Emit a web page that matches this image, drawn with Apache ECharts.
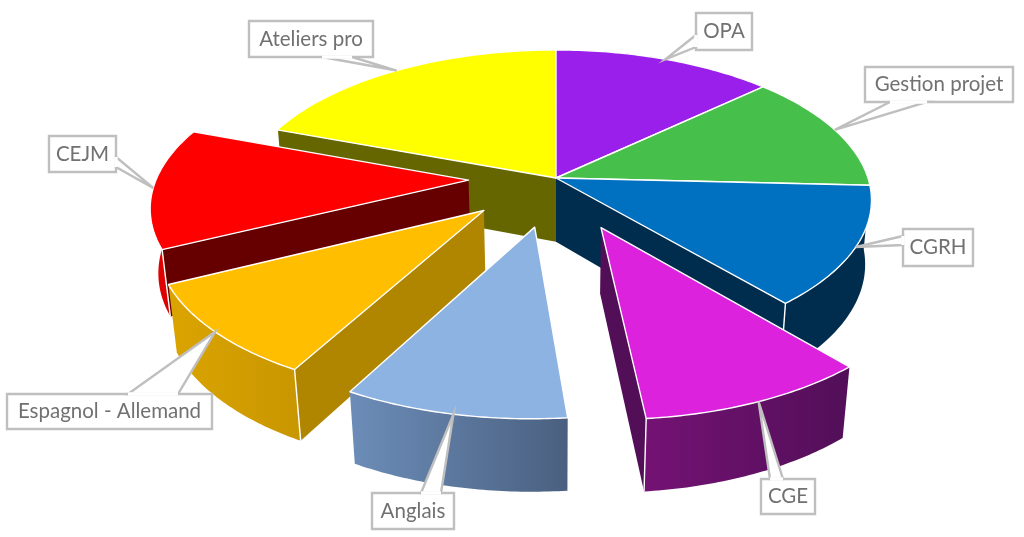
<!DOCTYPE html>
<html><head><meta charset="utf-8">
<style>html,body{margin:0;padding:0;background:#fff}#c{width:1024px;height:537px}</style>
<script src="https://cdn.jsdelivr.net/npm/echarts@6/dist/echarts.min.js"></script>
</head><body><div id="c"></div>
<script>
// data
const categories = ['OPA','Gestion projet','CGRH','CGE','Anglais','Espagnol - Allemand','CEJM','Ateliers pro'];
const hours = [13.3,13,13.15,10,9.65,10,13.1,19.8];
const explosion = [0,0,0,0.35,0.325,0.31,0.28,0];
// styles
const topColors = ['#9B1FEB','#47C04B','#0070C0','#DC22DC','#8DB3E2','#FFBE00','#FF0000','#FFFF00'];
const radialColors = ['#3E0C5E','#1C4D1E','#002D4D','#520F58','#4A6080','#B08500','#660000','#666600'];
const outerFrom = ['#5D1390','#2B732D','#002D4D','#741274','#6C8DB8','#DBA400','#E60000','#999900'];
const outerTo = ['#3E0C5E','#1C4D1E','#002D4D','#520F58','#4A6080','#C89600','#CC0000','#666600'];
// label boxes: x0,y0,x1,y1 and wedge base segment on the box edge
const boxes = [[696,13,752,50],[865,67,1013,102],[903,229,973,266],[761,479,815,514],[372,493,454,529],[7,394,212,429],[49,136,116,172],[249,21,373,57]];
const wedgeBases = [[696,35,696,47],[890,102,927,102],[903,236,903,245],[770,479,783,479],[421,493,441,493],[128,394,178,394],[116,157,116,167],[322,57,352,57]];
const drawOrder = [7,0,1,2,6,5,3,4];
// projection
const CX=556,CY=178,A=312,B=147,K=0.148,H=65,M=0.02;
function proj(X,Y,d){const s=1+K*Y+M*d;return [CX+A*X/s,CY-(B*Y-H*d)/s];}
const total=hours.reduce((a,b)=>a+b,0);
const starts=[];let acc=0;hours.forEach(v=>{starts.push(acc/total*Math.PI*2);acc+=v;});
function area(p){let a=0;for(let i=0;i<p.length;i++){const q=p[(i+1)%p.length];a+=p[i][0]*q[1]-q[0]*p[i][1];}return a/2;}
function renderItem(params,api){
  const i=api.value(0),t0=starts[i],t1=t0+api.value(1)/total*Math.PI*2,mid=(t0+t1)/2;
  const ox=explosion[i]*Math.sin(mid),oy=explosion[i]*Math.cos(mid);
  const n=48,arc=[];for(let k=0;k<=n;k++){const t=t0+(t1-t0)*k/n;arc.push([ox+Math.sin(t),oy+Math.cos(t)]);}
  const top=[proj(ox,oy,0)].concat(arc.map(p=>proj(p[0],p[1],0)));
  const ch=[];
  const poly=(pts,fill,stroke)=>ch.push({type:'polygon',shape:{points:pts},style:{fill:fill,stroke:stroke||null,lineWidth:stroke?1.4:0,lineJoin:'round'}});
  const line=(a,b)=>ch.push({type:'line',shape:{x1:a[0],y1:a[1],x2:b[0],y2:b[1]},style:{stroke:'#fff',lineWidth:1.4}});
  const lo=arc.map(p=>proj(p[0],p[1],1));
  const hi=arc.map(p=>proj(p[0],p[1],0));
  poly(hi.concat(lo.slice().reverse()),{type:'linear',x:0,y:0,x2:1,y2:0,colorStops:[{offset:0,color:outerFrom[i]},{offset:1,color:outerTo[i]}]});
  [[arc[0],-1],[arc[n],1]].forEach(([p,sgn])=>{
    const q=[proj(ox,oy,0),proj(p[0],p[1],0),proj(p[0],p[1],1),proj(ox,oy,1)];
    if(area(q)*sgn>0){poly(q,radialColors[i]);line(q[1],q[2]);}
  });
  poly(top,topColors[i],'#ffffff');
  return {type:'group',children:ch};
}
function renderLabels(params,api){
  const i=api.value(0),t0=starts[i],t1=t0+hours[i]/total*Math.PI*2,mid=(t0+t1)/2;
  const ox=(explosion[i]+1)*Math.sin(mid),oy=(explosion[i]+1)*Math.cos(mid);
  const tip=proj(ox,oy,0),b=boxes[i],w=wedgeBases[i];
  const G='#BFBFBF';
  return {type:'group',children:[
    {type:'rect',shape:{x:b[0],y:b[1],width:b[2]-b[0],height:b[3]-b[1]},style:{fill:'#fff',stroke:G,lineWidth:2.4}},
    {type:'polygon',shape:{points:[[w[0],w[1]],tip,[w[2],w[3]]]},style:{fill:'#fff',stroke:G,lineWidth:2.4,lineJoin:'miter'}},
    {type:'line',shape:{x1:w[0],y1:w[1],x2:w[2],y2:w[3]},style:{stroke:'#fff',lineWidth:3.4}},
    {type:'text',style:{x:(b[0]+b[2])/2,y:(b[1]+b[3])/2,text:categories[i],fill:'#717171',font:'20.5px Lato',align:'center',verticalAlign:'middle'}}
  ]};
}
const chart=echarts.init(document.getElementById('c'),null,{renderer:'canvas'});
chart.setOption({animation:false,backgroundColor:'#fff',series:[
  {type:'custom',coordinateSystem:'none',silent:true,renderItem:renderItem,z:1,
   data:drawOrder.map(i=>({name:categories[i],value:[i,hours[i]]}))},
  {type:'custom',coordinateSystem:'none',silent:true,renderItem:renderLabels,z:2,
   data:categories.map((c,i)=>({name:c,value:[i,hours[i]]}))}
]});
</script></body></html>
